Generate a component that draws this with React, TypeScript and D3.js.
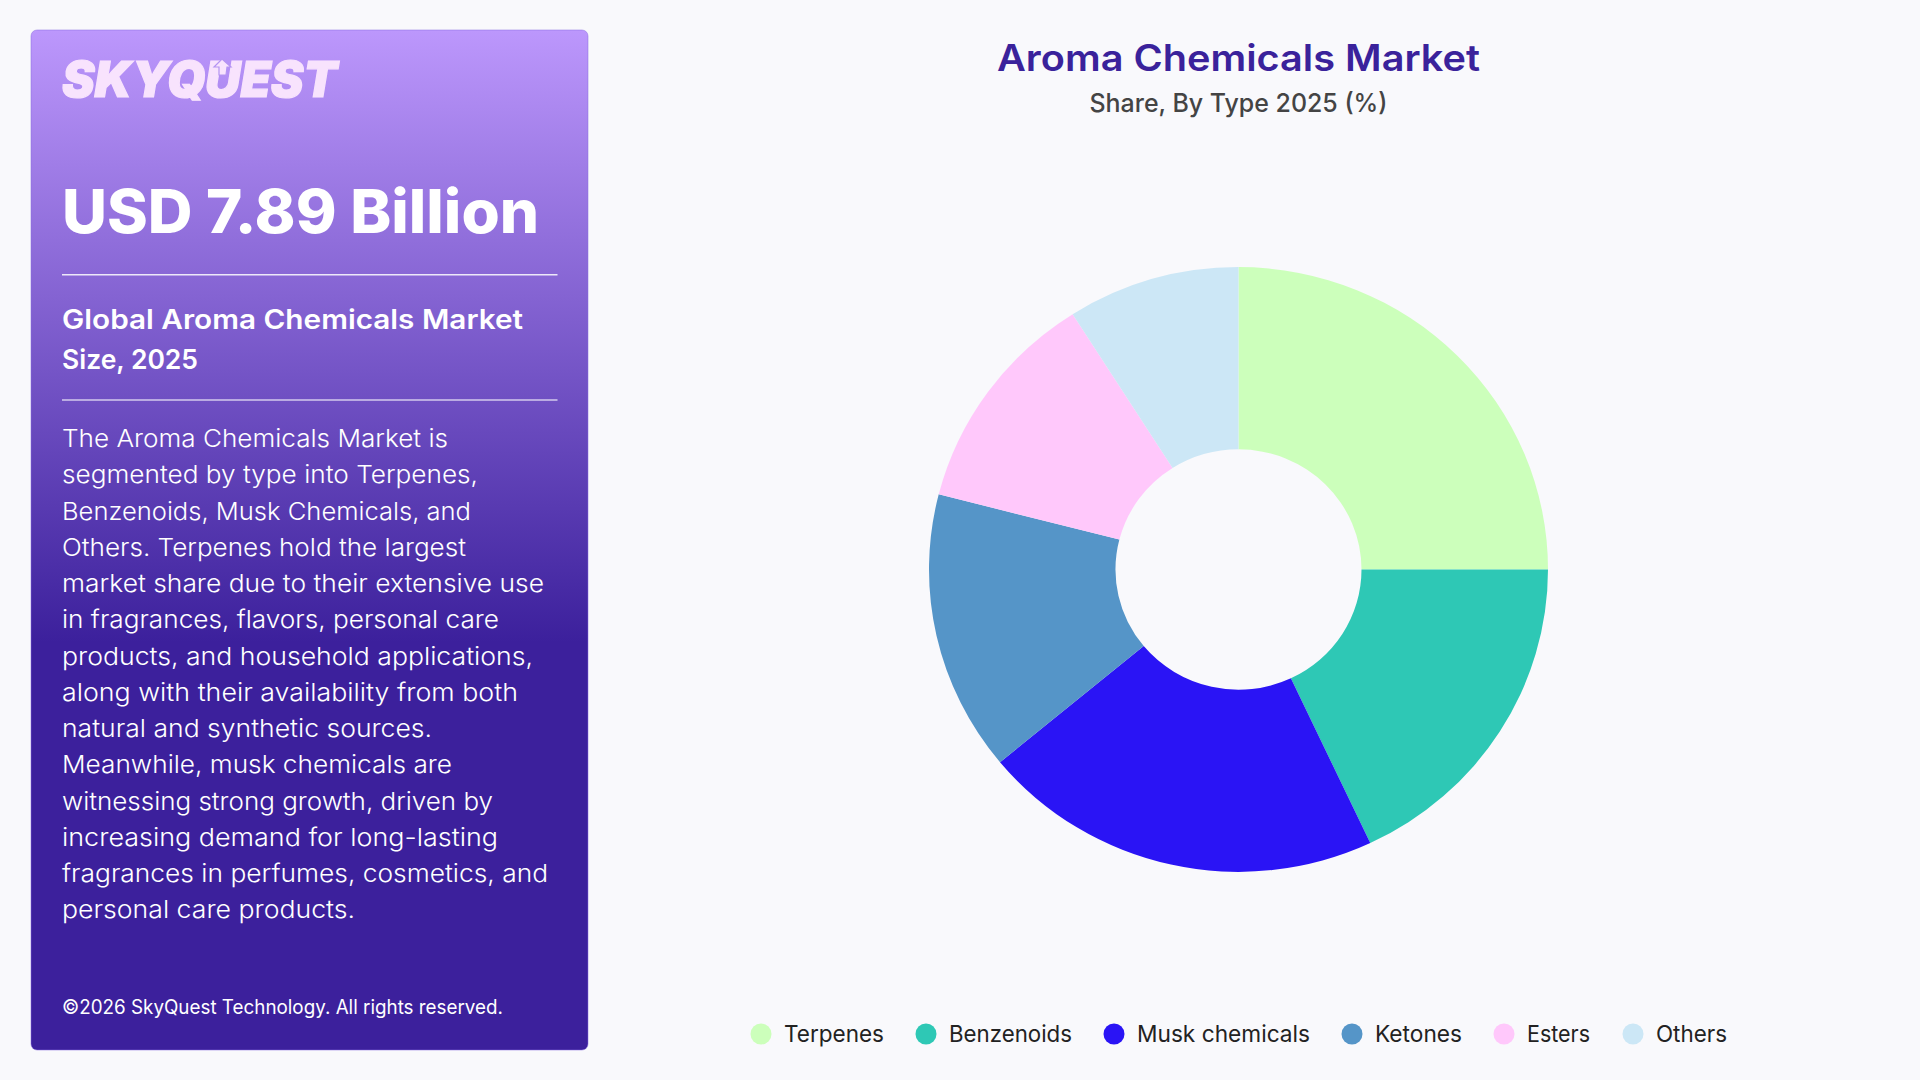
import * as d3 from "d3";

const categories = ["Terpenes", "Benzenoids", "Musk chemicals", "Ketones", "Esters", "Others"];
const shares = [25, 18, 21, 15, 12, 9];
const colors = ["#ccffbb", "#2ec8b5", "#2a14f5", "#5595c8", "#ffc8fb", "#cce7f6"];

const legendDotX = [761, 926, 1114, 1352, 1504, 1633];
const legendTextWidth = [100, 123, 173, 87, 63, 71];

const bodyLines = [
	"The Aroma Chemicals Market is",
	"segmented by type into Terpenes,",
	"Benzenoids, Musk Chemicals, and",
	"Others. Terpenes hold the largest",
	"market share due to their extensive use",
	"in fragrances, flavors, personal care",
	"products, and household applications,",
	"along with their availability from both",
	"natural and synthetic sources.",
	"Meanwhile, musk chemicals are",
	"witnessing strong growth, driven by",
	"increasing demand for long-lasting",
	"fragrances in perfumes, cosmetics, and",
	"personal care products.",
];
const bodyWidths = [386, 416, 409, 404, 482, 437, 471, 456, 370, 390, 431, 436, 486, 293];

const font = "Inter, 'Noto Sans', sans-serif";
const W = 1920;
const H = 1080;
const cx = 1238.5;
const cy = 569.5;
const outerR = 309.5;
const innerR = 123;

const pie = d3
	.pie<number>()
	.value((d) => d)
	.sort(null);
const arc = d3.arc<d3.PieArcDatum<number>>().innerRadius(innerR).outerRadius(outerR);

export default function App() {
	const slices = pie(shares);
	return (
		<svg
			width={W}
			height={H}
			viewBox={`0 0 ${W} ${H}`}
			style={{ position: "fixed", left: 0, top: 0, fontFamily: font }}
		>
			<defs>
				<linearGradient id="panel" x1="0" y1="0" x2="0" y2="1">
					<stop offset="0" stopColor="#bc97fc" />
					<stop offset="0.6" stopColor="#3c209c" />
					<stop offset="1" stopColor="#3c209c" />
				</linearGradient>
			</defs>
			<rect width={W} height={H} fill="#f9f9fc" />

			{/* left panel */}
			<rect
				x={31}
				y={30}
				width={557}
				height={1020}
				rx={6}
				fill="url(#panel)"
				stroke="#8a6de0"
				strokeOpacity={0.5}
				strokeWidth={1}
			/>
			<text
				x={62}
				y={97}
				fontSize={49}
				fontWeight={900}
				fontStyle="italic"
				fill="#f8e3fd"
				stroke="#f8e3fd"
				strokeWidth={1.2}
				textLength={275}
				lengthAdjust="spacingAndGlyphs"
			>
				SKYQUEST
			</text>
			{/* arrow notch in the logo's U */}
			<path
				d="M222 59 L231 67 L227 67 L226 75 L219 75 L219 67 L214 67 Z"
				fill="#f8e3fd"
				stroke="#b493f2"
				strokeWidth={1.2}
			/>
			<text
				x={62}
				y={233}
				fontSize={60}
				fontWeight={800}
				fill="#fff"
				textLength={477}
				lengthAdjust="spacingAndGlyphs"
			>
				USD 7.89 Billion
			</text>
			<line x1={62} x2={557.5} y1={274.7} y2={274.7} stroke="#fff" strokeOpacity={0.85} strokeWidth={1.5} />
			<text x={62} y={329} fontSize={27} fontWeight={600} fill="#fff" textLength={461} lengthAdjust="spacingAndGlyphs">
				Global Aroma Chemicals Market
			</text>
			<text x={62} y={369} fontSize={27} fontWeight={600} fill="#fff" textLength={136} lengthAdjust="spacingAndGlyphs">
				Size, 2025
			</text>
			<line x1={62} x2={557.5} y1={400} y2={400} stroke="#fff" strokeOpacity={0.7} strokeWidth={1.5} />
			{bodyLines.map((line, i) => (
				<text
					key={line}
					x={62}
					y={447 + i * 36.25}
					fontSize={24.5}
					fontWeight={300}
					fill="#fff"
					textLength={bodyWidths[i]}
					lengthAdjust="spacingAndGlyphs"
				>
					{line}
				</text>
			))}
			<text x={62} y={1014} fontSize={19.5} fontWeight={400} fill="#fff" textLength={441} lengthAdjust="spacingAndGlyphs">
				©2026 SkyQuest Technology. All rights reserved.
			</text>

			{/* title */}
			<text
				x={cx}
				y={70.7}
				textAnchor="middle"
				fontSize={36.5}
				fontWeight={600}
				fill="#3a229b"
				textLength={483}
				lengthAdjust="spacingAndGlyphs"
			>
				Aroma Chemicals Market
			</text>
			<text
				x={cx}
				y={111.7}
				textAnchor="middle"
				fontSize={25.5}
				fontWeight={450}
				fill="#444"
				textLength={298}
				lengthAdjust="spacingAndGlyphs"
			>
				Share, By Type 2025 (%)
			</text>

			{/* donut */}
			<g transform={`translate(${cx},${cy}) scale(1,0.977)`}>
				{slices.map((s, i) => (
					<path key={categories[i]} d={arc(s) ?? ""} fill={colors[i]} />
				))}
			</g>

			{/* legend */}
			{categories.map((c, i) => (
				<g key={c}>
					<circle cx={legendDotX[i]} cy={1034} r={10.5} fill={colors[i]} />
					<text
						x={legendDotX[i] + 23}
						y={1042}
						fontSize={23}
						fontWeight={400}
						fill="#222"
						textLength={legendTextWidth[i]}
						lengthAdjust="spacingAndGlyphs"
					>
						{c}
					</text>
				</g>
			))}
		</svg>
	);
}
